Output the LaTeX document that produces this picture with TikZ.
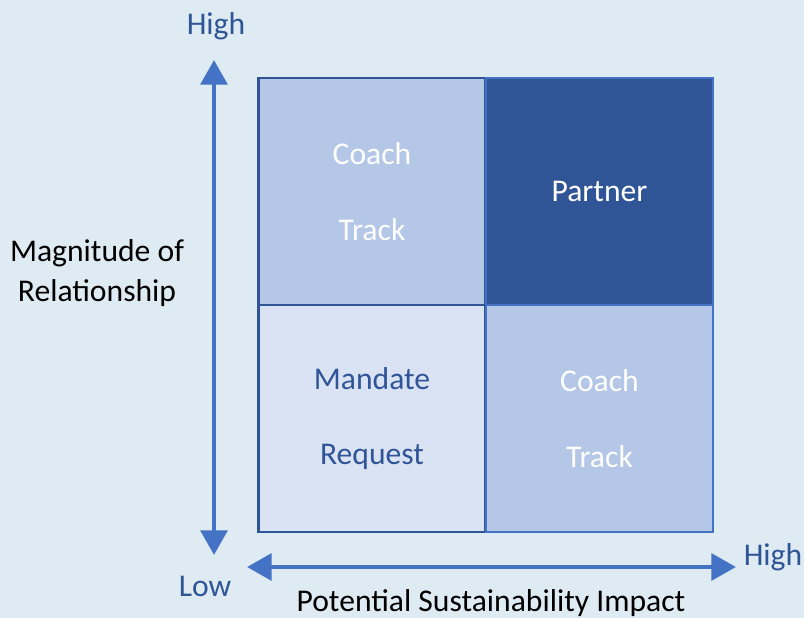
\documentclass[tikz,border=0pt]{standalone}
\usepackage{fontspec}
\setmainfont{Carlito}
\usetikzlibrary{arrows.meta}
\definecolor{bgblue}{RGB}{223,235,242}
\definecolor{darkblue}{RGB}{47,85,151}
\definecolor{midblue}{RGB}{68,114,196}
\definecolor{paleblue}{RGB}{180,199,231}
\definecolor{lightblue}{RGB}{218,227,243}
\tikzset{
	cell/.style={draw, line width=1.4pt, minimum width=4.54cm, minimum height=4.54cm, align=center, font=\fontsize{18}{22}\selectfont},
	axis/.style={midblue, line width=2.8pt, {Triangle[width=15pt,length=14pt]}-{Triangle[width=15pt,length=14pt]}},
	lbl/.style={font=\fontsize{18}{22.7}\selectfont}
}
\begin{document}
\begin{tikzpicture}[x=0.02cm, y=-0.02cm]
\useasboundingbox[fill=bgblue] (0,0) rectangle (804,618);
% left column first, right column drawn over the shared edge
\node[cell, fill=paleblue, draw=darkblue, text=white] (tl) at (372,191.5) {Coach\\[21pt]Track};
\node[cell, fill=lightblue, draw=darkblue, text=darkblue] (bl) at (372,418.5) {Mandate\\[21pt]Request};
\node[cell, fill=darkblue, draw=midblue, text=white] (tr) at (599.5,191.5) {Partner};
\node[cell, fill=paleblue, draw=midblue, text=white] (br) at (599.5,418.5) {Coach\\[21pt]Track};
% axes
\coordinate (vtop) at (214,60);
\coordinate (vbot) at (214,555);
\coordinate (hleft) at (247,567);
\coordinate (hright) at (736,567);
\draw[axis] (vbot) -- (vtop);
\draw[axis] (hleft) -- (hright);
\node[lbl, text=darkblue] (yhigh) at (216,26) {High};
\node[lbl, text=darkblue] (ylow) at (205,586) {Low};
\node[lbl, text=darkblue] (xhigh) at (773,557) {High};
\node[lbl, align=center] (ytitle) at (97,273) {Magnitude of\\Relationship};
\node[lbl] (xtitle) at (491,603) {Potential Sustainability Impact};
\end{tikzpicture}
\end{document}
